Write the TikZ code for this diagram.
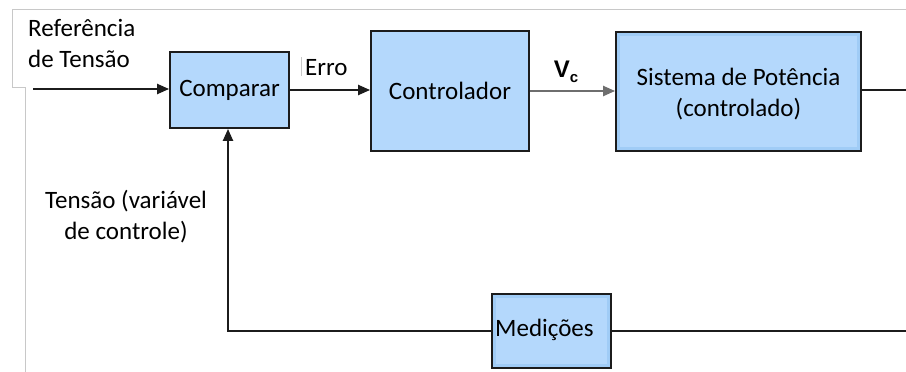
\documentclass[tikz,border=0pt]{standalone}
\usepackage{fontspec}
\setmainfont{Carlito}
\newfontfamily\vfont{Liberation Sans}
\usetikzlibrary{arrows.meta}
\definecolor{boxfill}{RGB}{180,216,252}
\definecolor{boxband}{RGB}{160,204,246}
\definecolor{wire}{RGB}{28,28,28}
\definecolor{softwire}{RGB}{110,110,110}
\definecolor{frameline}{RGB}{200,200,200}
\tikzset{
  blockbox/.style={draw=wire, line width=1.8pt, fill=boxfill, inner sep=0pt,
    font=\fontsize{25}{31}\selectfont, align=center},
  band/.style={draw=boxband, line width=2.5pt},
  link/.style={draw=wire, line width=2.2pt, -{Triangle[length=12pt,width=10pt]}},
  plainlink/.style={draw=wire, line width=2.2pt},
  lbl/.style={font=\fontsize{25}{31}\selectfont, align=center, inner sep=0pt},
  edge/.style={draw=frameline, line width=1pt}
}
\begin{document}
\begin{tikzpicture}[x=1pt,y=-1pt]
  \useasboundingbox (0,0) rectangle (906,372);
  % text box border lines
  \draw[edge] (906,9) -- (12,9) -- (12,87) -- (25,87) -- (25,372);
  \draw[edge] (301,57) -- (301,76);

  % blocks
  \node[blockbox, minimum width=119pt, minimum height=76pt] (cmp) at (229.5,90) {Comparar};
  \node[blockbox, minimum width=158pt, minimum height=120pt] (ctl) at (450,91) {Controlador};
  \node[blockbox, minimum width=245pt, minimum height=119pt] (sys) at (738.5,91.5) {};
  \draw[band] ([shift={(3.5pt,-3.5pt)}]sys.north west) rectangle ([shift={(-3.5pt,3.5pt)}]sys.south east);
  \node[lbl] at (738.5,94) {Sistema de Potência\\(controlado)};
  \node[blockbox, minimum width=119pt, minimum height=74pt] (med) at (551.5,331) {};
  \draw[band] ([shift={(3.5pt,-3.5pt)}]med.north west) rectangle ([shift={(-3.5pt,3.5pt)}]med.south east);
  \node[lbl, anchor=west] at (495,330) {Medições};

  % free ends
  \coordinate (in) at (33,89);
  \coordinate (out) at (906,90);
  \coordinate (fbend) at (906,331);
  \coordinate (corner) at (228,331);

  % forward path
  \draw[link] (in) -- (cmp.west |- in);
  \draw[link] (cmp.east |- 0,90) -- (ctl.west |- 0,90);
  \draw[draw=softwire, line width=2.2pt, -{Triangle[length=12pt,width=10pt]}] (ctl.east |- 0,91) -- (sys.west |- 0,91);
  \draw[plainlink] (sys.east |- out) -- (out);

  % feedback path
  \draw[plainlink] (fbend) -- (med.east |- fbend);
  \draw[link] (med.west |- corner) -- (corner) -- (corner |- cmp.south);

  % labels
  \node[lbl, align=left, anchor=north west] at (28,19) {Referência\\de Tensão};
  \node[lbl, anchor=west] at (305,68) {Erro};
  \node[lbl, inner sep=0pt] (vc) at (566,72) {\vfont\bfseries\fontsize{24}{24}\selectfont V\raisebox{-0.4ex}{\fontsize{15}{15}\selectfont c}};
  \node[lbl] at (126,217) {Tensão (variável\\de controle)};
\end{tikzpicture}
\end{document}
